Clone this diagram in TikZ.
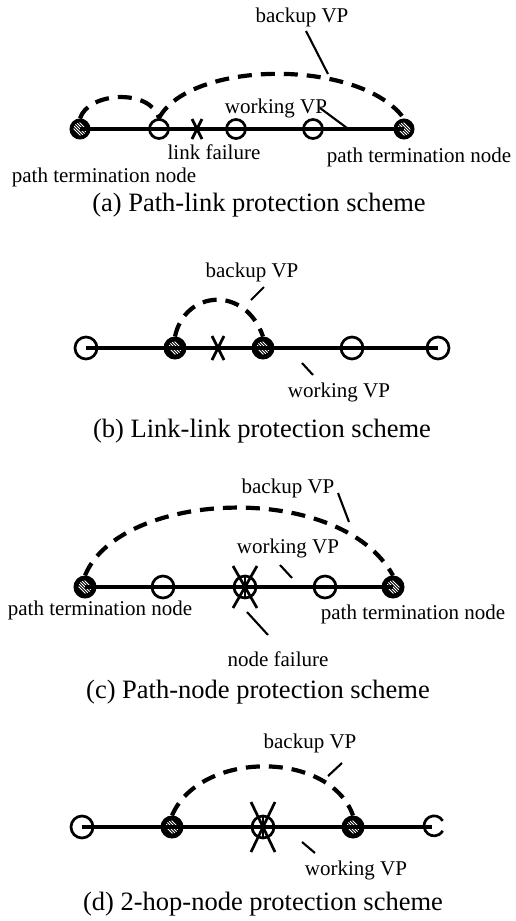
\documentclass[tikz,border=0pt]{standalone}
\usepackage{fontspec}
\setmainfont{Liberation Serif}
\begin{document}
\begin{tikzpicture}[x=1pt,y=-1pt,
  wline/.style={line width=3.6pt},
  bline/.style={line width=4.2pt, dash pattern=on 14pt off 9pt},
  leader/.style={line width=2.1pt},
  xmark/.style={line width=2.7pt},
  opennode/.style={circle, draw, line width=2.7pt, minimum size=22pt, inner sep=0pt},
  smallopen/.style={opennode, minimum size=19pt},
  termnode/.style={circle, fill=black, draw, line width=1pt, minimum size=22pt, inner sep=0pt,
     path picture={
       \begin{scope}
       \clip (path picture bounding box.center) circle (6.5pt);
       \foreach \d in {-6,-3,0,3,6}
         \draw[white, line width=1pt] ([shift={(\d-7,-7)}]path picture bounding box.center) -- ([shift={(\d+7,7)}]path picture bounding box.center);
       \end{scope}}},
  smallterm/.style={termnode, minimum size=20pt},
  lbl/.style={inner sep=0pt, font=\fontsize{21}{24}\selectfont},
  captext/.style={inner sep=0pt, font=\fontsize{26.5}{30}\selectfont},
]
\useasboundingbox (0,0) rectangle (516,921);

% ---------------- (a) ----------------
\node[smallterm] (a1) at (80,129) {};
\node[smallopen] (a2) at (159,129) {};
\coordinate (ax) at (197,129);
\node[smallopen] (a3) at (236,129) {};
\node[smallopen] (a4) at (313,129) {};
\node[smallterm] (a5) at (404,129) {};
\draw[wline] (a1.center) -- (a5.center);
\draw[xmark] ([shift={(-5,-10)}]ax) -- ([shift={(5,10)}]ax);
\draw[xmark] ([shift={(5,-10)}]ax) -- ([shift={(-5,10)}]ax);
\draw[bline] (a1.north) .. controls (88,92) and (150,88) .. (a2.north);
\draw[bline] (a2.north) .. controls (190,60) and (360,58) .. (a5.north);
\node[lbl] (abk) at (302,17) {backup VP};
\node[lbl] (awk) at (276,108) {working VP};
\node[lbl] (alf) at (214,152) {link failure};
\node[lbl] (aptr) at (419,157) {path termination node};
\node[lbl] (aptl) at (104,177) {path termination node};
\node[captext] (acap) at (259,205) {(a) Path-link protection scheme};
\coordinate (abk1) at (306,31); \coordinate (abk2) at (328,74);
\coordinate (awk1) at (320,108); \coordinate (awk2) at (347,128);
\draw[leader] (abk1) -- (abk2);
\draw[leader] (awk1) -- (awk2);

% ---------------- (b) ----------------
\node[opennode] (b1) at (86,348) {};
\node[termnode] (b2) at (175,348) {};
\coordinate (bx) at (218,348);
\node[termnode] (b3) at (263,348) {};
\node[opennode] (b4) at (352,348) {};
\node[opennode] (b5) at (438,348) {};
\draw[wline] (b1.center) -- (b5.center);
\draw[xmark] ([shift={(-6,-12)}]bx) -- ([shift={(6,12)}]bx);
\draw[xmark] ([shift={(6,-12)}]bx) -- ([shift={(-6,12)}]bx);
\draw[bline] (b2.north) .. controls (185,290) and (245,285) .. (b3.north);
\node[lbl] (bbk) at (252,272) {backup VP};
\node[lbl] (bwk) at (339,392) {working VP};
\node[captext] (bcap) at (262,431) {(b) Link-link protection scheme};
\coordinate (bbk1) at (264,287); \coordinate (bbk2) at (251,300);
\coordinate (bwk1) at (302,363); \coordinate (bwk2) at (313,375);
\draw[leader] (bbk1) -- (bbk2);
\draw[leader] (bwk1) -- (bwk2);

% ---------------- (c) ----------------
\node[termnode] (c1) at (85,587) {};
\node[opennode] (c2) at (163,587) {};
\node[opennode] (c3) at (245,587) {};
\node[opennode] (c4) at (325,587) {};
\node[termnode] (c5) at (393,587) {};
\draw[wline] (c1.center) -- (c5.center);
\draw[line width=1.8pt] (c3.north) -- (c3.south);
\draw[xmark] ([shift={(-12,-21)}]c3.center) -- ([shift={(12,21)}]c3.center);
\draw[xmark] ([shift={(12,-21)}]c3.center) -- ([shift={(-12,21)}]c3.center);
\draw[bline] (c1.north) .. controls (120,490) and (340,480) .. (c5.north);
\node[lbl] (cbk) at (288,488) {backup VP};
\node[lbl] (cwk) at (288,548) {working VP};
\node[lbl] (cptl) at (100,610) {path termination node};
\node[lbl] (cptr) at (413,614) {path termination node};
\node[lbl] (cnf) at (278,659) {node failure};
\node[captext] (ccap) at (258,692) {(c) Path-node protection scheme};
\coordinate (cbk1) at (338,493); \coordinate (cbk2) at (349,522);
\coordinate (cwk1) at (280,565); \coordinate (cwk2) at (292,578);
\coordinate (cnf1) at (247,612); \coordinate (cnf2) at (268,635);
\draw[leader] (cbk1) -- (cbk2);
\draw[leader] (cwk1) -- (cwk2);
\draw[leader] (cnf1) -- (cnf2);

% ---------------- (d) ----------------
\node[opennode] (d1) at (82,827) {};
\node[termnode] (d2) at (172,827) {};
\node[opennode] (d3) at (263,827) {};
\node[termnode] (d4) at (353,827) {};
\node[opennode, draw=none] (d5) at (432,827) {};
\draw[line width=2.7pt] (d5.30) arc[start angle=-30, end angle=-330, radius=10];
\draw[wline] (d1.center) -- (d5.center);
\draw[line width=1.8pt] (d3.north) -- (d3.south);
\draw[xmark] ([shift={(-12,-25)}]d3.center) -- ([shift={(12,25)}]d3.center);
\draw[xmark] ([shift={(12,-25)}]d3.center) -- ([shift={(-12,25)}]d3.center);
\draw[bline] (d2.north) .. controls (200,750) and (330,750) .. (d4.north);
\node[lbl] (dbk) at (310,743) {backup VP};
\node[lbl] (dwk) at (356,870) {working VP};
\node[captext] (dcap) at (263,904) {(d) 2-hop-node protection scheme};
\coordinate (dbk1) at (342,763); \coordinate (dbk2) at (328,776);
\coordinate (dwk1) at (302,842); \coordinate (dwk2) at (315,853);
\draw[leader] (dbk1) -- (dbk2);
\draw[leader] (dwk1) -- (dwk2);
\end{tikzpicture}
\end{document}
